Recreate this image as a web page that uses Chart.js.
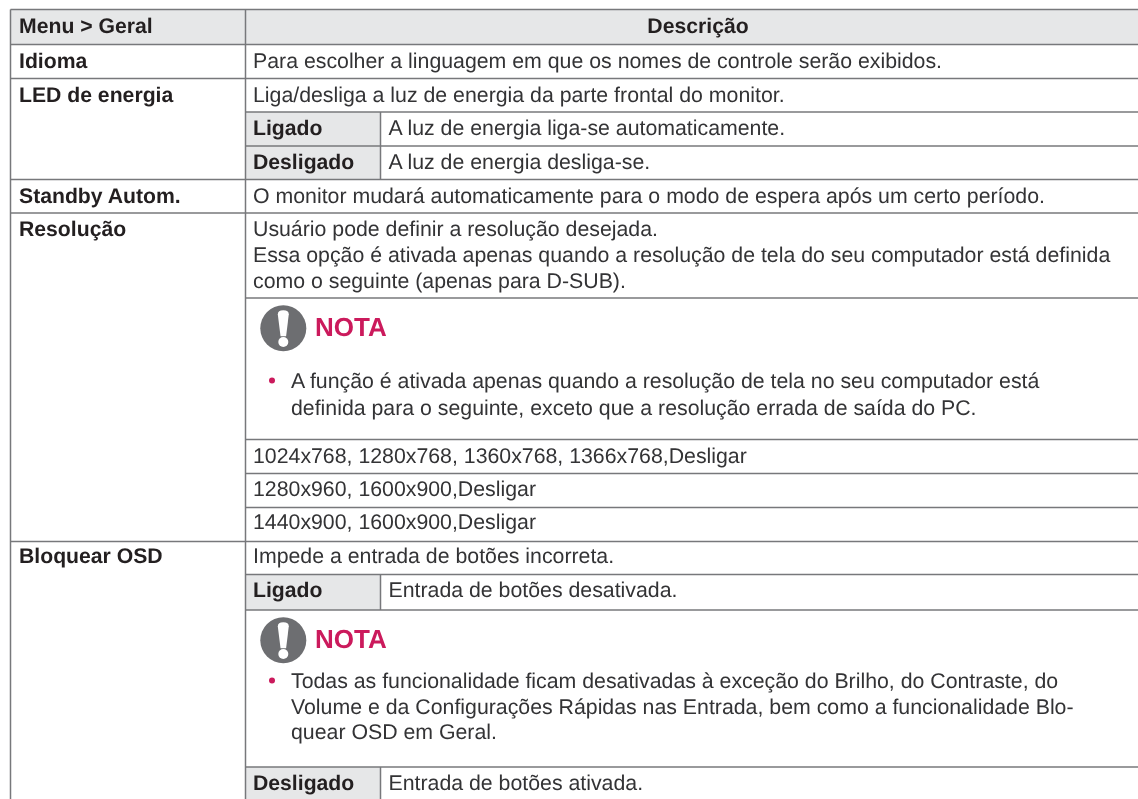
<!DOCTYPE html>
<html>
<head>
<meta charset="utf-8">
<style>
html, body { margin: 0; padding: 0; background: #fff; }
canvas { display: block; }
</style>
<script src="https://cdn.jsdelivr.net/npm/chart.js@4"></script>
</head>
<body>
<canvas id="table-chart" width="1138" height="799"></canvas>
<script>
// table content
const headerLabels = ['Menu > Geral', 'Descrição'];
const menuLabels = ['Idioma', 'LED de energia', 'Standby Autom.', 'Resolução', 'Bloquear OSD'];
const optionLabels = ['Ligado', 'Desligado', 'Ligado', 'Desligado'];
const optionTexts = [
    'A luz de energia liga-se automaticamente.',
    'A luz de energia desliga-se.',
    'Entrada de botões desativada.',
    'Entrada de botões ativada.'
];
const descriptionLines = [
    'Para escolher a linguagem em que os nomes de controle serão exibidos.',
    'Liga/desliga a luz de energia da parte frontal do monitor.',
    'O monitor mudará automaticamente para o modo de espera após um certo período.',
    'Usuário pode definir a resolução desejada.',
    'Essa opção é ativada apenas quando a resolução de tela do seu computador está definida',
    'como o seguinte (apenas para D-SUB).',
    '1024x768, 1280x768, 1360x768, 1366x768,Desligar',
    '1280x960, 1600x900,Desligar',
    '1440x900, 1600x900,Desligar',
    'Impede a entrada de botões incorreta.'
];
const noteTitle = 'NOTA';
const noteLines = [
    'A função é ativada apenas quando a resolução de tela no seu computador está',
    'definida para o seguinte, exceto que a resolução errada de saída do PC.',
    'Todas as funcionalidade ficam desativadas à exceção do Brilho, do Contraste, do',
    'Volume e da Configurações Rápidas nas Entrada, bem como a funcionalidade Blo-',
    'quear OSD em Geral.'
];

// grid of the table, in page units
const colEdges = [10.5, 245.5, 380.5, 1138];
const rowEdges = [9.5, 44.5, 78.5, 112, 146, 179.5, 213, 298, 439.5, 473.5, 507.5, 541.5, 574.5, 610, 767, 799];
// [row edge, first column]
const rowRules = [[0,0],[1,0],[2,0],[3,1],[4,1],[5,0],[6,0],[7,1],[8,1],[9,1],[10,1],[11,0],[12,1],[13,1],[14,1]];
// [column edge, first row edge, last row edge]
const colRules = [[0,0,15],[1,0,15],[2,3,5],[2,12,13],[2,14,15]];
// [col from, col to, row from, row to]
const shadedCells = [[0,3,0,1],[1,2,3,5],[1,2,12,13],[1,2,14,15]];
const noteIcons = [[283.3, 328.3], [283.3, 640.3]];

const textLeft = 19, descLeft = 253, optionLeft = 388.5, noteLeft = 291, bulletX = 272;
const menuBase = [68, 102, 203, 236, 563];
const optionBase = [135, 169, 597, 790];
const descBase = [68, 102, 203, 236, 262, 288, 463, 496, 529, 563];
const noteTitleBase = [336, 647.5];
const noteBase = [388, 415, 688, 714, 739];

const textDark = '#231f20', textBody = '#333335', pink = '#cb1a5c', iconGrey = '#6d6e71', ruleGrey = '#77787b';
const bodyFont = '21.3px "Liberation Sans"', boldFont = 'bold 21.2px "Liberation Sans"';

const ruleSets = rowRules.map(([r, c]) => ({
    data: [{x: colEdges[c], y: rowEdges[r]}, {x: colEdges[3], y: rowEdges[r]}],
    borderColor: ruleGrey, borderWidth: 1.5, pointRadius: 0, showLine: true, fill: false
})).concat(colRules.map(([c, a, b]) => ({
    data: [{x: colEdges[c], y: rowEdges[a]}, {x: colEdges[c], y: rowEdges[b]}],
    borderColor: ruleGrey, borderWidth: 1.5, pointRadius: 0, showLine: true, fill: false
})));

const cellSets = shadedCells.map(([c1, c2, r1, r2]) => ({
    data: [
        {x: colEdges[c1], y: rowEdges[r1]}, {x: colEdges[c2], y: rowEdges[r1]},
        {x: colEdges[c2], y: rowEdges[r2]}, {x: colEdges[c1], y: rowEdges[r2]},
        {x: colEdges[c1], y: rowEdges[r1]}
    ],
    borderWidth: 0, pointRadius: 0, showLine: true, fill: 'shape', backgroundColor: '#e6e7e8'
}));

const iconSet = {
    data: noteIcons.map(([x, y]) => ({x, y})),
    pointRadius: 23, pointBackgroundColor: iconGrey, pointBorderWidth: 0, showLine: false
};

const tableText = {
    id: 'tableText',
    afterDatasetsDraw(chart) {
        const { ctx, scales: { x, y } } = chart;
        function put(str, px, py, font, color, align) {
            ctx.font = font;
            ctx.fillStyle = color;
            ctx.textAlign = align || 'left';
            ctx.textBaseline = 'alphabetic';
            ctx.fillText(str, x.getPixelForValue(px), y.getPixelForValue(py));
        }
        ctx.save();
        ctx.textRendering = 'geometricPrecision';
        put(headerLabels[0], textLeft, 33, boldFont, textDark);
        put(headerLabels[1], 698, 33, boldFont, textDark, 'center');
        menuLabels.forEach((t, i) => put(t, textLeft, menuBase[i], boldFont, textDark));
        optionLabels.forEach((t, i) => put(t, descLeft, optionBase[i], boldFont, textDark));
        optionTexts.forEach((t, i) => put(t, optionLeft, optionBase[i], bodyFont, textBody));
        descriptionLines.forEach((t, i) => put(t, descLeft, descBase[i], bodyFont, textBody));
        noteLines.forEach((t, i) => put(t, noteLeft, noteBase[i], bodyFont, textBody));
        [0, 2].forEach(i => {
            ctx.fillStyle = pink;
            ctx.beginPath();
            ctx.arc(x.getPixelForValue(bulletX), y.getPixelForValue(noteBase[i] - 7.5), 3, 0, Math.PI * 2);
            ctx.fill();
        });
        noteTitleBase.forEach(b => put(noteTitle, 315, b, 'bold 26px "Liberation Sans"', pink));
        // exclamation mark inside the icon
        noteIcons.forEach(([ix, iy]) => {
            const cx = x.getPixelForValue(ix), cy = y.getPixelForValue(iy);
            ctx.fillStyle = '#fff';
            ctx.beginPath();
            ctx.moveTo(cx - 5.5, cy - 14);
            ctx.quadraticCurveTo(cx - 5.5, cy - 18, cx, cy - 18);
            ctx.quadraticCurveTo(cx + 5.5, cy - 18, cx + 5.5, cy - 14);
            ctx.lineTo(cx + 2.8, cy + 8);
            ctx.lineTo(cx - 2.8, cy + 8);
            ctx.closePath();
            ctx.fill();
            ctx.beginPath();
            ctx.arc(cx, cy + 13.7, 5, 0, Math.PI * 2);
            ctx.fill();
        });
        ctx.restore();
    }
};

new Chart(document.querySelector('#table-chart').getContext('2d'), {
    type: 'scatter',
    data: { datasets: [iconSet].concat(ruleSets, cellSets) },
    options: {
        responsive: false,
        animation: false,
        layout: { padding: 0, autoPadding: false },
        plugins: { legend: { display: false }, tooltip: { enabled: false } },
        scales: {
            x: { type: 'linear', min: 0, max: 1138, display: false },
            y: { type: 'linear', min: 0, max: 799, reverse: true, display: false }
        }
    },
    plugins: [tableText]
});
</script>
</body>
</html>
